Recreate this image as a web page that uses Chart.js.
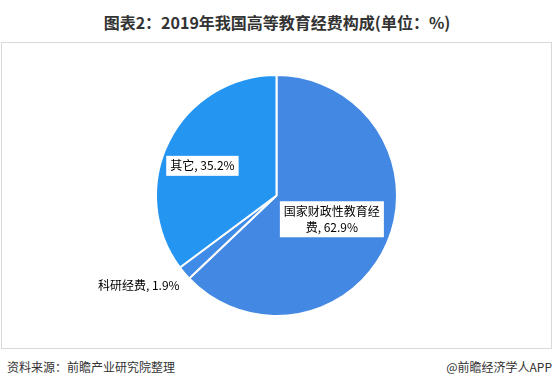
<!DOCTYPE html>
<html>
<head>
<meta charset="utf-8">
<script src="https://cdn.jsdelivr.net/npm/chart.js@4.4.0/dist/chart.umd.min.js"></script>
<style>
  body { margin: 0; background: #fff; font-family: "Noto Sans CJK SC", sans-serif; }
  #wrap { position: relative; width: 554px; height: 389px; }
  #titulo { position: absolute; left: 0; top: 10px; width: 554px; text-align: center; font-size: 16px; font-weight: bold; color: #333; line-height: 24px; }
  #marco { position: absolute; left: 1px; top: 42px; width: 549px; height: 305px; border: 1px solid #d9d9d9; }
  #fuente { position: absolute; left: 7px; top: 358px; font-size: 12px; color: #333; line-height: 18px; }
  #app { position: absolute; right: 2px; top: 358px; font-size: 12px; color: #333; line-height: 18px; }
</style>
</head>
<body>
<div id="wrap">
  <div id="titulo">图表2：2019年我国高等教育经费构成(单位：%)</div>
  <div id="marco"><canvas id="myChart" width="549" height="305"></canvas></div>
  <div id="fuente">资料来源：前瞻产业研究院整理</div>
  <div id="app">@前瞻经济学人APP</div>
</div>
<script>
var categorias = ['国家财政性教育经费', '科研经费', '其它'];
var valores = [62.9, 1.9, 35.2];
var colores = ['#4389e3', '#3f8ce8', '#2595f2'];

// label lines, position as [radius fraction, dx, dy], box or not
var etiquetas = [
    { lineas: ['国家财政性教育经', '费, 62.9%'], r: 0.5, dx: 0, dy: 0, caja: true },
    { lineas: ['科研经费, 1.9%'], r: 1.05, dx: -41, dy: 8, caja: false },
    { lineas: ['其它, 35.2%'], r: 0.66, dx: -3, dy: 6, caja: true }
];

const pluginEtiquetas = {
    id: 'etiquetas',
    afterDatasetsDraw(chart) {
        const ctx = chart.ctx;
        const arcs = chart.getDatasetMeta(0).data;
        ctx.save();
        ctx.font = '12px "Noto Sans CJK SC", sans-serif';
        ctx.textAlign = 'center';
        ctx.textBaseline = 'middle';
        for (var i = 0; i < arcs.length; i++) {
            var a = arcs[i];
            var e = etiquetas[i];
            var mid = (a.startAngle + a.endAngle) / 2;
            var x = a.x + Math.cos(mid) * a.outerRadius * e.r + e.dx;
            var y = a.y + Math.sin(mid) * a.outerRadius * e.r + e.dy;
            var lh = 16;
            var w = 0;
            for (var l of e.lineas) w = Math.max(w, ctx.measureText(l).width);
            var h = lh * e.lineas.length;
            if (e.caja) {
                ctx.fillStyle = '#fff';
                ctx.fillRect(x - w / 2 - 4, y - h / 2 - 2, w + 8, h + 4);
            }
            ctx.fillStyle = '#000';
            for (var k = 0; k < e.lineas.length; k++) {
                ctx.fillText(e.lineas[k], x, y - h / 2 + lh / 2 + k * lh);
            }
        }
        ctx.restore();
    }
};

new Chart(document.getElementById('myChart').getContext('2d'), {
    type: 'pie',
    data: {
        labels: categorias,
        datasets: [{
            data: valores,
            backgroundColor: colores,
            borderColor: '#fff',
            borderWidth: 2
        }]
    },
    options: {
        responsive: false,
        animation: false,
        layout: { padding: { top: 31, bottom: 31 } },
        plugins: {
            legend: { display: false },
            tooltip: { enabled: false }
        }
    },
    plugins: [pluginEtiquetas]
});
</script>
</body>
</html>
